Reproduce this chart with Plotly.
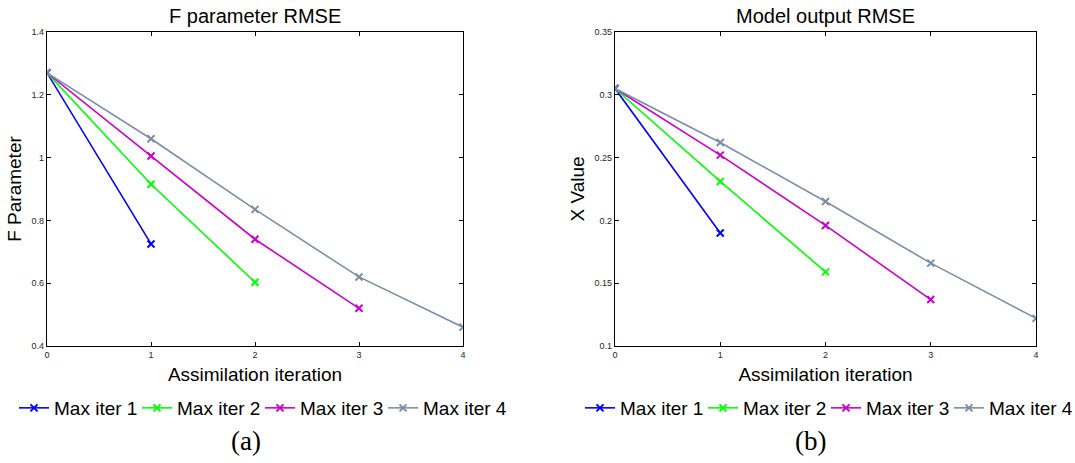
import plotly.graph_objects as go

W, H = 1075, 463

iters = [0, 1, 2, 3, 4]
series_names = ["Max iter 1", "Max iter 2", "Max iter 3", "Max iter 4"]
colors = ["#0000ff", "#00ff00", "#cc00cc", "#7a8fa6"]

f_iter1 = [1.27, 0.725]
f_iter2 = [1.27, 0.915, 0.603]
f_iter3 = [1.27, 1.005, 0.74, 0.52]
f_iter4 = [1.27, 1.06, 0.835, 0.62, 0.46]

x_iter1 = [0.305, 0.19]
x_iter2 = [0.305, 0.231, 0.159]
x_iter3 = [0.305, 0.252, 0.196, 0.137]
x_iter4 = [0.305, 0.262, 0.215, 0.166, 0.122]

f_series = [f_iter1, f_iter2, f_iter3, f_iter4]
x_series = [x_iter1, x_iter2, x_iter3, x_iter4]

fig = go.Figure()

for i, (name, col) in enumerate(zip(series_names, colors)):
    ys = f_series[i]
    fig.add_trace(go.Scatter(
        x=iters[:len(ys)], y=ys, mode="lines+markers", name=name,
        line=dict(color=col, width=1.6),
        marker=dict(symbol="x-thin", size=7, line=dict(color=col, width=2)),
        xaxis="x", yaxis="y", legend="legend"))
for i, (name, col) in enumerate(zip(series_names, colors)):
    ys = x_series[i]
    fig.add_trace(go.Scatter(
        x=iters[:len(ys)], y=ys, mode="lines+markers", name=name,
        line=dict(color=col, width=1.6),
        marker=dict(symbol="x-thin", size=7, line=dict(color=col, width=2)),
        xaxis="x2", yaxis="y2", legend="legend2"))

def px(x):
    return x / W

def py(y):
    return 1 - y / H

ydom = [py(346), py(32)]
tickfont = dict(family="Liberation Sans, Arial", size=9, color="#262626")
common_axis = dict(showline=True, linecolor="black", linewidth=1.2, mirror="ticks",
                   ticks="inside", ticklen=4, tickcolor="black", showgrid=False,
                   zeroline=False, tickfont=tickfont, automargin=False)
lab = dict(size=19)

fig.update_layout(
    width=W, height=H,
    margin=dict(l=0, r=0, t=0, b=0, autoexpand=False),
    paper_bgcolor="white", plot_bgcolor="white",
    font=dict(family="Liberation Sans, Arial", color="black"),
    xaxis=dict(domain=[px(47), px(463)], range=[0, 4], tickvals=[0, 1, 2, 3, 4],
               title=dict(text="Assimilation iteration", font=lab, standoff=8),
               anchor="y", **common_axis),
    yaxis=dict(domain=ydom, range=[0.4, 1.4], tickvals=[0.4, 0.6, 0.8, 1, 1.2, 1.4],
               ticktext=["0.4", "0.6", "0.8", "1", "1.2", "1.4"],
               title=dict(text="F Parameter", font=lab, standoff=4),
               anchor="x", **common_axis),
    xaxis2=dict(domain=[px(615), px(1036)], range=[0, 4], tickvals=[0, 1, 2, 3, 4],
                title=dict(text="Assimilation iteration", font=lab, standoff=8),
                anchor="y2", **common_axis),
    yaxis2=dict(domain=ydom, range=[0.1, 0.35], tickvals=[0.1, 0.15, 0.2, 0.25, 0.3, 0.35],
                ticktext=["0.1", "0.15", "0.2", "0.25", "0.3", "0.35"],
                title=dict(text="X Value", font=lab, standoff=4),
                anchor="x2", **common_axis),
    legend=dict(orientation="h", x=px(260), xanchor="center", y=py(408), yanchor="middle",
                font=dict(size=19), itemwidth=30, entrywidth=78, entrywidthmode="pixels",
                tracegroupgap=0, bgcolor="rgba(0,0,0,0)"),
    legend2=dict(orientation="h", x=px(826), xanchor="center", y=py(408), yanchor="middle",
                 font=dict(size=19), itemwidth=30, entrywidth=78, entrywidthmode="pixels",
                 tracegroupgap=0, bgcolor="rgba(0,0,0,0)"),
    annotations=[
        dict(text="F parameter RMSE", x=px(255), y=py(16), xref="paper", yref="paper",
             showarrow=False, font=dict(size=20), xanchor="center", yanchor="middle"),
        dict(text="Model output RMSE", x=px(825), y=py(16), xref="paper", yref="paper",
             showarrow=False, font=dict(size=20), xanchor="center", yanchor="middle"),
        dict(text="(a)", x=px(246), y=py(441), xref="paper", yref="paper",
             showarrow=False, font=dict(size=27, family="Liberation Serif, DejaVu Serif"),
             xanchor="center", yanchor="middle"),
        dict(text="(b)", x=px(810), y=py(441), xref="paper", yref="paper",
             showarrow=False, font=dict(size=27, family="Liberation Serif, DejaVu Serif"),
             xanchor="center", yanchor="middle"),
    ],
)

fig.write_html("out.html")
